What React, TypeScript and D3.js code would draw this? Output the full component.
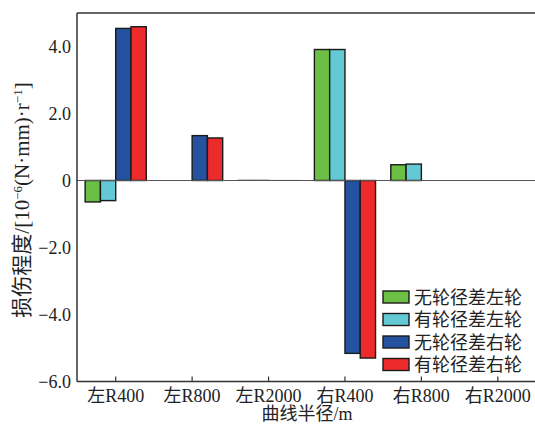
import * as d3 from 'd3';

const categories = ['左R400', '左R800', '左R2000', '右R400', '右R800', '右R2000'];
const seriesNames = ['无轮径差左轮', '有轮径差左轮', '无轮径差右轮', '有轮径差右轮'];
const colors = ['#6cbf45', '#63c9d4', '#2452a0', '#ee2b2b'];
// values per category, in order of seriesNames
const noDiffLeft = [-0.64, 0, 0.02, 3.91, 0.47, 0];
const diffLeft = [-0.6, 0, 0.02, 3.91, 0.49, 0];
const noDiffRight = [4.54, 1.34, 0.01, -5.16, 0, 0];
const diffRight = [4.59, 1.27, 0.01, -5.3, 0, 0];
const yTicks = [-6, -4, -2, 0, 2, 4];

const W = 535;
const H = 426;
const font = '"Liberation Serif", "Noto Sans CJK SC", serif';

export default function App() {
  const seriesValues = [noDiffLeft, diffLeft, noDiffRight, diffRight];

  const x = d3.scaleBand<string>().domain(categories).range([77.5, 536]).padding(0);
  const inner = d3
    .scaleBand<string>()
    .domain(seriesNames)
    .range([x.bandwidth() * 0.1, x.bandwidth() * 0.9])
    .padding(0);
  const y = d3.scaleLinear().domain([-6, 5]).range([381.5, 13]);

  const left = 77;
  const right = 536;
  const fmt = (v: number) => (v === 0 ? '0' : (v < 0 ? '\u2212' : '') + Math.abs(v).toFixed(1));

  const legendY = [297, 319.5, 342, 364.5];

  return (
    <svg width={W} height={H} style={{ position: 'absolute', left: 0, top: 0, background: '#fff' }} fontFamily={font}>
      {/* bars */}
      {seriesValues.map((vals, si) =>
        vals.map((v, ci) => {
          if (v === 0) return null;
          const bx = (x(categories[ci]) ?? 0) + (inner(seriesNames[si]) ?? 0);
          const y0 = y(0);
          const y1 = y(v);
          return (
            <rect
              key={`${si}-${ci}`}
              x={bx}
              y={Math.min(y0, y1)}
              width={inner.bandwidth()}
              height={Math.max(Math.abs(y1 - y0), 0.5)}
              fill={colors[si]}
              stroke={Math.abs(v) < 0.1 ? '#999' : '#1a1a1a'}
              strokeWidth={Math.abs(v) < 0.1 ? 0.6 : 1.4}
            />
          );
        })
      )}
      {/* zero line */}
      <line x1={left} x2={right} y1={y(0)} y2={y(0)} stroke="#555" strokeWidth={1.2} />
      {/* frame */}
      <line x1={left} x2={right} y1={y(5)} y2={y(5)} stroke="#333" strokeWidth={1.5} />
      <line x1={left} x2={left} y1={y(5)} y2={y(-6)} stroke="#333" strokeWidth={1.5} />
      <line x1={left} x2={right} y1={y(-6)} y2={y(-6)} stroke="#333" strokeWidth={1.5} />
      {/* x ticks */}
      {categories.map((c) => {
        const cx = (x(c) ?? 0) + x.bandwidth() / 2;
        return (
          <g key={c}>
            <line x1={cx} x2={cx} y1={y(-6)} y2={y(-6) - 5} stroke="#333" strokeWidth={1.2} />
            <text x={cx} y={402} textAnchor="middle" fontSize={18} fill="#222">
              {c}
            </text>
          </g>
        );
      })}
      {/* y ticks */}
      {yTicks.map((t) => (
        <text key={t} x={71} y={y(t) + 6} textAnchor="end" fontSize={18} fill="#222">
          {fmt(t)}
        </text>
      ))}
      {/* axis titles */}
      <text x={307} y={420} textAnchor="middle" fontSize={18} fill="#222">
        曲线半径/m
      </text>
      <text transform={`translate(29,${200}) rotate(-90)`} textAnchor="middle" fontSize={21} fill="#222">
        损伤程度/[10
        <tspan dy={-7} fontSize={13}>−6</tspan>
        <tspan dy={7}>(N·mm)·r</tspan>
        <tspan dy={-7} fontSize={13}>−1</tspan>
        <tspan dy={7}>]</tspan>
      </text>
      {/* legend */}
      {seriesNames.map((n, i) => (
        <g key={n}>
          <rect x={383} y={legendY[i] - 6} width={26} height={12} fill={colors[i]} stroke="#1a1a1a" strokeWidth={1.4} />
          <text x={414} y={legendY[i] + 6.5} fontSize={18} fill="#222">
            {n}
          </text>
        </g>
      ))}
    </svg>
  );
}
